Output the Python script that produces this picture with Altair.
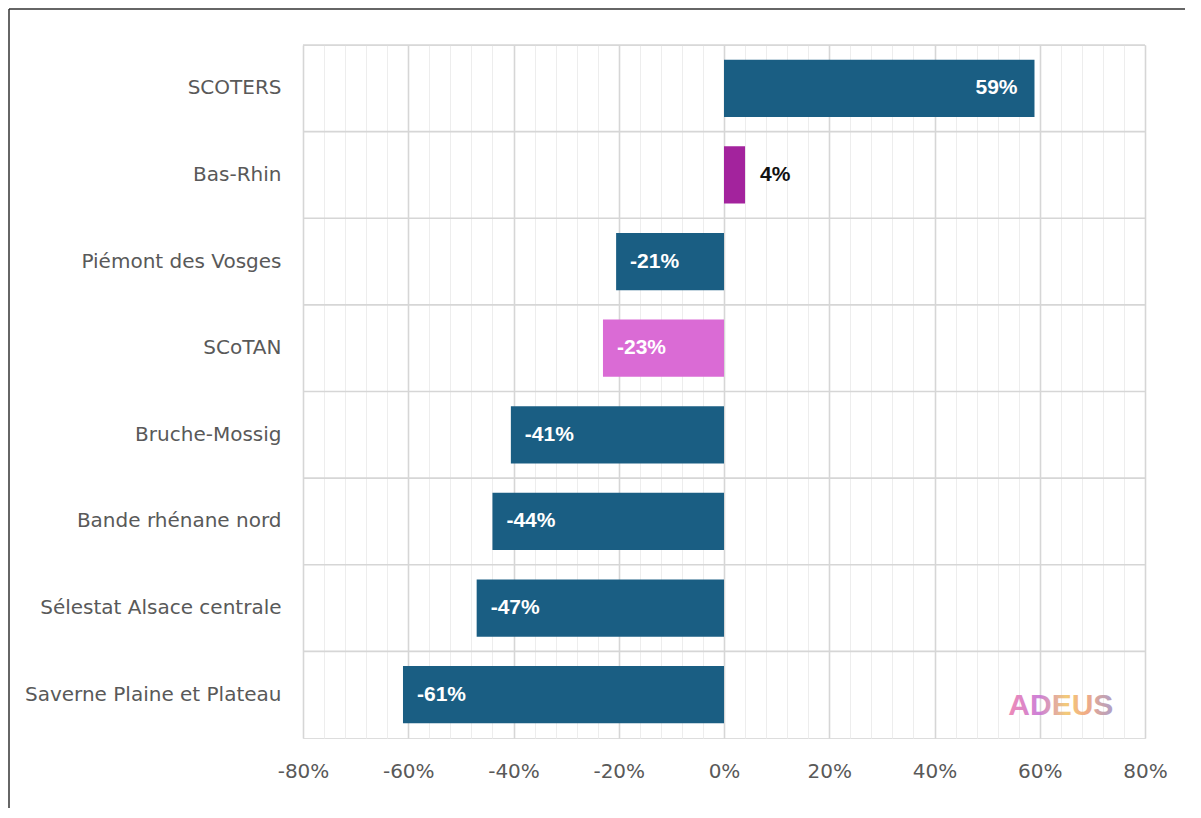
import altair as alt
import pandas as pd

categories = ["SCOTERS", "Bas-Rhin", "Piémont des Vosges", "SCoTAN", "Bruche-Mossig",
              "Bande rhénane nord", "Sélestat Alsace centrale", "Saverne Plaine et Plateau"]
values = [59, 4, -20.5, -23, -40.5, -44, -47, -61]
labels = ["59%", "4%", "-21%", "-23%", "-41%", "-44%", "-47%", "-61%"]
colors = ["#1a5e83", "#a3239d", "#1a5e83", "#da6bd5", "#1a5e83", "#1a5e83", "#1a5e83", "#1a5e83"]
placement = ["inside", "outside", "inside", "inside", "inside", "inside", "inside", "inside"]
x_ticks = list(range(-80, 81, 4))

df = pd.DataFrame({"cat": categories, "value": values, "label": labels,
                   "color": colors, "place": placement})

W, H = 842, 693
xscale = alt.Scale(domain=[-80, 80], nice=False)
yscale = alt.Scale(domain=categories, paddingInner=0, paddingOuter=0)

base = alt.Chart(df)

bars = base.mark_bar(height=alt.RelativeBandSize(0.66)).encode(
    x=alt.X("value:Q", scale=xscale, title=None,
            axis=alt.Axis(values=x_ticks, tickCount=len(x_ticks),
                          labelExpr="datum.value % 20 === 0 ? datum.value + '%' : ''",
                          labelOverlap=False, labelFlush=False,
                          grid=True,
                          gridColor={"condition": {"test": "datum.value % 20 === 0", "value": "#d6d6d6"},
                                     "value": "#ededed"},
                          gridWidth={"condition": {"test": "datum.value % 20 === 0", "value": 1.6},
                                     "value": 1},
                          domain=False, ticks=False, labelPadding=23,
                          labelFont="DejaVu Sans", labelFontSize=20,
                          labelColor="#595959")),
    x2=alt.datum(0),
    y=alt.Y("cat:N", scale=yscale, sort=categories, title=None,
            axis=alt.Axis(domain=False, ticks=False, grid=False, labelPadding=22,
                          labelLimit=500,
                          labelFont="DejaVu Sans", labelFontSize=20,
                          labelColor="#595959")),
    color=alt.Color("color:N", scale=None),
)

hgrid = base.mark_rule(color="#d6d6d6", strokeWidth=1.6).encode(
    y=alt.Y("cat:N", sort=categories, bandPosition=0),
    x=alt.datum(-80),
    x2=alt.datum(80),
)

txt_common = dict(font="Liberation Sans", fontSize=21, fontWeight="bold", baseline="middle")

txt_pos_in = base.transform_filter(
    "datum.place === 'inside' && datum.value > 0"
).mark_text(align="right", dx=-17, color="white", **txt_common).encode(
    x="value:Q", y=alt.Y("cat:N", sort=categories), text="label:N")

txt_neg_in = base.transform_filter(
    "datum.place === 'inside' && datum.value < 0"
).mark_text(align="left", dx=14, color="white", **txt_common).encode(
    x="value:Q", y=alt.Y("cat:N", sort=categories), text="label:N")

txt_out = base.transform_filter(
    "datum.place === 'outside'"
).mark_text(align="left", dx=15, color="#111111", **txt_common).encode(
    x="value:Q", y=alt.Y("cat:N", sort=categories), text="label:N")

logo_grad = alt.Gradient(
    gradient="linear", x1=0, x2=1, y1=0, y2=0,
    stops=[alt.GradientStop(color="#ec7fb0", offset=0),
           alt.GradientStop(color="#c874d4", offset=0.3),
           alt.GradientStop(color="#f2c66a", offset=0.55),
           alt.GradientStop(color="#f0a27a", offset=0.75),
           alt.GradientStop(color="#a594c4", offset=1)])

logo = alt.Chart(pd.DataFrame({"t": ["ADEUS"]})).mark_text(
    font="Liberation Sans", fontSize=30, fontWeight="bold", align="center", baseline="middle",
    color=logo_grad, opacity=0.9
).encode(x=alt.datum(64), y=alt.value(H - 32), text="t:N")

frame_top = alt.Chart(pd.DataFrame({"a": [0]})).mark_rule(color="#333333", strokeWidth=1.5).encode(
    x=alt.value(-294), x2=alt.value(W + 40), y=alt.value(-36))
frame_left = alt.Chart(pd.DataFrame({"a": [0]})).mark_rule(color="#333333", strokeWidth=1.5).encode(
    x=alt.value(-294), y=alt.value(-36), y2=alt.value(H + 70))

chart = alt.layer(hgrid, bars, txt_pos_in, txt_neg_in, txt_out, logo, frame_top, frame_left).properties(
    width=W, height=H,
    autosize=alt.AutoSizeParams(type="none"),
    padding={"left": 295, "top": 37, "right": 40, "bottom": 70},
).configure_view(stroke="#d6d6d6", strokeWidth=1.6).configure(background="white")

chart.save("out.html", embed_options={"renderer": "svg", "actions": False})
